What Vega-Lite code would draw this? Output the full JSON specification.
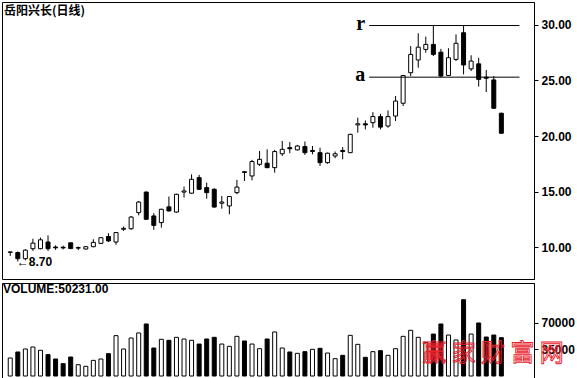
{
  "$schema": "https://vega.github.io/schema/vega-lite/v6.json",
  "padding": {"left": 1, "top": 1, "right": 0, "bottom": 2},
  "background": "white",
  "spacing": 2,
  "config": {
    "view": {"stroke": "black", "strokeWidth": 1},
    "axis": {
      "grid": false, "title": null, "domainColor": "black", "tickColor": "black", "tickSize": 4,
      "labelPadding": 3, "labelFont": "Liberation Sans", "labelFontSize": 12, "labelFontWeight": "bold", "labelColor": "black"
    }
  },
  "datasets": {
    "k": [
      {"i":0,"o":9.52,"h":9.58,"l":9.2,"c":9.56,"v":23600,"d":"up"},
      {"i":1,"o":9.5,"h":9.6,"l":8.7,"c":8.95,"v":31500,"d":"down"},
      {"i":2,"o":8.95,"h":9.8,"l":8.8,"c":9.72,"v":35400,"d":"up"},
      {"i":3,"o":9.85,"h":10.75,"l":9.65,"c":10.35,"v":38000,"d":"up"},
      {"i":4,"o":9.85,"h":10.85,"l":9.8,"c":10.65,"v":33700,"d":"up"},
      {"i":5,"o":10.45,"h":11.05,"l":9.65,"c":9.85,"v":28000,"d":"down"},
      {"i":6,"o":10.0,"h":10.15,"l":9.75,"c":9.93,"v":22300,"d":"down"},
      {"i":7,"o":9.98,"h":10.12,"l":9.78,"c":9.92,"v":16200,"d":"down"},
      {"i":8,"o":10.38,"h":10.4,"l":9.82,"c":9.86,"v":24900,"d":"down"},
      {"i":9,"o":9.9,"h":10.05,"l":9.72,"c":9.95,"v":14800,"d":"up"},
      {"i":10,"o":9.82,"h":10.08,"l":9.78,"c":10.03,"v":12700,"d":"up"},
      {"i":11,"o":10.03,"h":10.7,"l":9.98,"c":10.42,"v":20500,"d":"up"},
      {"i":12,"o":10.33,"h":10.88,"l":10.3,"c":10.84,"v":22300,"d":"up"},
      {"i":13,"o":10.95,"h":11.25,"l":10.45,"c":10.55,"v":29300,"d":"down"},
      {"i":14,"o":10.45,"h":11.35,"l":10.2,"c":11.3,"v":52900,"d":"up"},
      {"i":15,"o":11.6,"h":11.85,"l":11.45,"c":11.68,"v":35400,"d":"up"},
      {"i":16,"o":11.65,"h":12.8,"l":11.55,"c":12.7,"v":49800,"d":"up"},
      {"i":17,"o":13.1,"h":14.15,"l":12.85,"c":14.05,"v":56400,"d":"up"},
      {"i":18,"o":14.95,"h":15.0,"l":12.45,"c":12.5,"v":68200,"d":"down"},
      {"i":19,"o":12.8,"h":13.05,"l":11.55,"c":11.95,"v":36700,"d":"down"},
      {"i":20,"o":12.2,"h":13.45,"l":11.75,"c":13.4,"v":48100,"d":"up"},
      {"i":21,"o":13.62,"h":14.55,"l":13.2,"c":13.25,"v":46800,"d":"down"},
      {"i":22,"o":13.15,"h":14.8,"l":13.1,"c":14.75,"v":50700,"d":"up"},
      {"i":23,"o":14.95,"h":15.45,"l":14.45,"c":15.05,"v":48500,"d":"up"},
      {"i":24,"o":14.85,"h":16.55,"l":14.8,"c":16.1,"v":46800,"d":"up"},
      {"i":25,"o":16.25,"h":16.5,"l":15.15,"c":15.2,"v":41900,"d":"down"},
      {"i":26,"o":15.35,"h":15.8,"l":14.35,"c":14.9,"v":48500,"d":"down"},
      {"i":27,"o":15.2,"h":15.3,"l":13.55,"c":13.6,"v":50700,"d":"down"},
      {"i":28,"o":13.95,"h":14.6,"l":13.45,"c":14.05,"v":41900,"d":"up"},
      {"i":29,"o":13.7,"h":14.6,"l":12.95,"c":14.55,"v":38900,"d":"up"},
      {"i":30,"o":14.9,"h":16.05,"l":14.75,"c":15.4,"v":52000,"d":"up"},
      {"i":31,"o":16.78,"h":16.85,"l":15.95,"c":16.72,"v":45900,"d":"down"},
      {"i":32,"o":16.4,"h":17.85,"l":16.0,"c":17.7,"v":41900,"d":"up"},
      {"i":33,"o":17.45,"h":18.65,"l":17.3,"c":17.9,"v":35800,"d":"up"},
      {"i":34,"o":17.55,"h":18.8,"l":17.1,"c":17.15,"v":48500,"d":"down"},
      {"i":35,"o":17.15,"h":18.75,"l":16.7,"c":18.6,"v":57700,"d":"up"},
      {"i":36,"o":18.4,"h":19.55,"l":18.2,"c":18.8,"v":36700,"d":"up"},
      {"i":37,"o":18.95,"h":19.45,"l":18.45,"c":18.85,"v":31500,"d":"down"},
      {"i":38,"o":18.75,"h":19.2,"l":18.7,"c":19.1,"v":29700,"d":"up"},
      {"i":39,"o":19.05,"h":19.5,"l":18.3,"c":18.5,"v":31900,"d":"down"},
      {"i":40,"o":18.6,"h":19.1,"l":18.35,"c":18.7,"v":35000,"d":"up"},
      {"i":41,"o":18.5,"h":18.95,"l":17.3,"c":17.6,"v":36300,"d":"down"},
      {"i":42,"o":17.6,"h":18.5,"l":17.5,"c":18.45,"v":30100,"d":"up"},
      {"i":43,"o":18.2,"h":18.6,"l":18.0,"c":18.4,"v":22700,"d":"up"},
      {"i":44,"o":18.7,"h":19.0,"l":17.9,"c":18.6,"v":27100,"d":"down"},
      {"i":45,"o":18.5,"h":20.2,"l":18.45,"c":20.15,"v":53300,"d":"up"},
      {"i":46,"o":21.0,"h":21.65,"l":20.3,"c":21.1,"v":41500,"d":"up"},
      {"i":47,"o":21.1,"h":21.4,"l":20.6,"c":21.0,"v":24500,"d":"down"},
      {"i":48,"o":21.2,"h":22.15,"l":20.75,"c":21.75,"v":31900,"d":"up"},
      {"i":49,"o":21.75,"h":22.0,"l":20.6,"c":20.8,"v":33200,"d":"down"},
      {"i":50,"o":20.9,"h":22.3,"l":20.75,"c":21.75,"v":27100,"d":"up"},
      {"i":51,"o":21.8,"h":23.6,"l":21.35,"c":23.15,"v":35800,"d":"up"},
      {"i":52,"o":22.95,"h":25.5,"l":22.7,"c":25.45,"v":52000,"d":"up"},
      {"i":53,"o":25.7,"h":28.1,"l":25.4,"c":27.35,"v":59900,"d":"up"},
      {"i":54,"o":26.85,"h":29.25,"l":26.15,"c":28.0,"v":50700,"d":"up"},
      {"i":55,"o":27.8,"h":28.95,"l":27.5,"c":28.25,"v":44000,"d":"up"},
      {"i":56,"o":28.25,"h":29.95,"l":27.2,"c":27.35,"v":55000,"d":"down"},
      {"i":57,"o":27.55,"h":27.85,"l":25.3,"c":25.4,"v":68200,"d":"down"},
      {"i":58,"o":25.45,"h":27.9,"l":25.4,"c":27.05,"v":53700,"d":"up"},
      {"i":59,"o":26.9,"h":29.15,"l":26.75,"c":28.35,"v":47200,"d":"up"},
      {"i":60,"o":29.3,"h":29.95,"l":25.55,"c":26.4,"v":100000,"d":"down"},
      {"i":61,"o":26.05,"h":27.27,"l":25.85,"c":26.75,"v":55000,"d":"up"},
      {"i":62,"o":26.5,"h":27.05,"l":24.45,"c":25.1,"v":69500,"d":"down"},
      {"i":63,"o":25.3,"h":25.95,"l":23.96,"c":25.2,"v":51100,"d":"down"},
      {"i":64,"o":25.05,"h":25.4,"l":22.45,"c":22.5,"v":53700,"d":"down"},
      {"i":65,"o":22.05,"h":22.1,"l":20.2,"c":20.25,"v":50231,"d":"down"}
    ],
    "lv": [
      {"n":"r","p":29.95,"x1":47.5,"x2":67.4},
      {"n":"a","p":25.3,"x1":47.5,"x2":67.4}
    ],
    "lo": [{"i":1,"p":8.7,"t":"←8.70"}],
    "wm": [{"i":63.9,"v":28800,"t":"赢 家 财 富 网"}]
  },
  "vconcat": [
    {
      "width": 532,
      "height": 277,
      "title": {"text": "岳阳兴长(日线)", "anchor": "start", "frame": "group", "offset": -16, "dx": 2, "font": "Noto Sans CJK SC", "fontSize": 12, "fontWeight": "bold", "color": "black"},
      "layer": [
        {
          "data": {"name": "k"},
          "mark": {"type": "rule", "color": "black", "strokeWidth": 1},
          "encoding": {
            "x": {"field": "i", "type": "quantitative", "scale": {"domain": [-0.43, 68.66], "nice": false, "zero": false}, "axis": null},
            "y": {"field": "l", "type": "quantitative", "scale": {"domain": [7.12, 32.07], "nice": false, "zero": false},
                  "axis": {"orient": "right", "values": [10, 12.5, 15, 17.5, 20, 22.5, 25, 27.5, 30], "format": ".2f"}},
            "y2": {"field": "h"}
          }
        },
        {
          "data": {"name": "k"},
          "mark": {"type": "bar", "width": 4, "stroke": "black", "strokeWidth": 1},
          "encoding": {
            "x": {"field": "i", "type": "quantitative"},
            "y": {"field": "o", "type": "quantitative"},
            "y2": {"field": "c"},
            "fill": {"field": "d", "type": "nominal", "scale": {"domain": ["up", "down"], "range": ["white", "black"]}, "legend": null}
          }
        },
        {
          "data": {"name": "lv"},
          "mark": {"type": "rule", "color": "black", "strokeWidth": 1},
          "encoding": {
            "x": {"field": "x1", "type": "quantitative"},
            "x2": {"field": "x2"},
            "y": {"field": "p", "type": "quantitative"}
          }
        },
        {
          "data": {"name": "lv"},
          "mark": {"type": "text", "font": "Liberation Serif", "fontSize": 20, "fontWeight": "bold", "align": "right", "baseline": "alphabetic", "dx": -4, "dy": 4, "color": "black"},
          "encoding": {
            "x": {"field": "x1", "type": "quantitative"},
            "y": {"field": "p", "type": "quantitative"},
            "text": {"field": "n"}
          }
        },
        {
          "data": {"name": "lo"},
          "mark": {"type": "text", "font": "Liberation Sans", "fontSize": 12, "fontWeight": "bold", "align": "left", "baseline": "middle", "dx": -1, "dy": 1, "color": "black"},
          "encoding": {
            "x": {"field": "i", "type": "quantitative"},
            "y": {"field": "p", "type": "quantitative"},
            "text": {"field": "t"}
          }
        }
      ]
    },
    {
      "width": 532,
      "height": 96,
      "title": {"text": "VOLUME:50231.00", "anchor": "start", "frame": "group", "offset": -13, "dx": 1, "font": "Liberation Sans", "fontSize": 12, "fontWeight": "bold", "color": "black"},
      "layer": [
        {
          "data": {"name": "k"},
          "mark": {"type": "bar", "width": 4, "stroke": "black", "strokeWidth": 1},
          "encoding": {
            "x": {"field": "i", "type": "quantitative", "scale": {"domain": [-0.43, 68.66], "nice": false, "zero": false}, "axis": null},
            "y": {"field": "v", "type": "quantitative", "scale": {"domain": [-3930, 121900], "nice": false, "zero": false},
                  "axis": {"orient": "right", "values": [35000, 70000], "format": "d"}},
            "y2": {"datum": 0},
            "fill": {"field": "d", "type": "nominal", "scale": {"domain": ["up", "down"], "range": ["white", "black"]}, "legend": null}
          }
        },
        {
          "data": {"name": "wm"},
          "mark": {"type": "text", "font": "Noto Sans CJK SC", "fontSize": 24, "align": "center", "baseline": "middle", "fill": "#ffffff", "fillOpacity": 0, "stroke": "#e8202a", "strokeWidth": 0.9},
          "encoding": {
            "x": {"field": "i", "type": "quantitative"},
            "y": {"field": "v", "type": "quantitative"},
            "text": {"field": "t"}
          }
        }
      ]
    }
  ]
}
